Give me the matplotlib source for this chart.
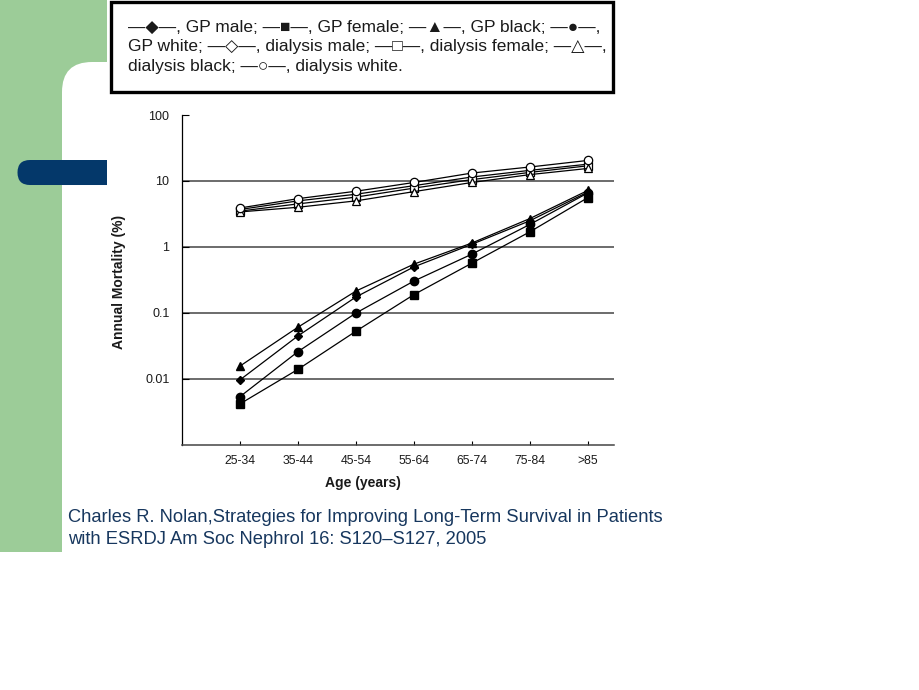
import matplotlib
matplotlib.use('Agg')
import matplotlib.pyplot as plt
from matplotlib.patches import Rectangle, FancyBboxPatch

# age groups and annual mortality (%)
ages = ['25-34', '35-44', '45-54', '55-64', '65-74', '75-84', '>85']
gp_male = [0.0097, 0.045, 0.175, 0.50, 1.1, 2.5, 6.8]
gp_female = [0.0042, 0.014, 0.053, 0.19, 0.57, 1.7, 5.6]
gp_black = [0.0157, 0.061, 0.215, 0.55, 1.15, 2.7, 7.2]
gp_white = [0.0054, 0.026, 0.10, 0.305, 0.78, 2.2, 6.6]
dial_male = [3.7, 5.0, 6.3, 8.5, 11.5, 14.5, 18.0]
dial_female = [3.5, 4.5, 5.7, 7.8, 10.5, 13.5, 17.0]
dial_black = [3.4, 4.0, 5.0, 6.9, 9.5, 12.5, 15.5]
dial_white = [3.9, 5.4, 7.0, 9.5, 13.2, 16.3, 20.5]

y_ticks = [0.01, 0.1, 1, 10, 100]
y_tick_labels = ['0.01', '0.1', '1', '10', '100']

legend_lines = [
    '\u2014\u25c6\u2014, GP male; \u2014\u25a0\u2014, GP female; \u2014\u25b2\u2014, GP black; \u2014\u25cf\u2014,',
    'GP white; \u2014\u25c7\u2014, dialysis male; \u2014\u25a1\u2014, dialysis female; \u2014\u25b3\u2014,',
    'dialysis black; \u2014\u25cb\u2014, dialysis white.',
]
citation = ['Charles R. Nolan,Strategies for Improving Long-Term Survival in Patients',
            'with ESRDJ Am Soc Nephrol 16: S120\u2013S127, 2005']

W, H = 920, 690
fonts = ['Liberation Sans', 'DejaVu Sans']

fig = plt.figure(figsize=(W / 100, H / 100), dpi=100)
fig.patch.set_facecolor('white')

# slide background in pixel coordinates
bg = fig.add_axes([0, 0, 1, 1])
bg.set_xlim(0, W)
bg.set_ylim(H, 0)
bg.axis('off')
bg.add_patch(Rectangle((0, 0), 107, 552, facecolor='#9ccc98', edgecolor='none'))
bg.add_patch(FancyBboxPatch((62 + 30, 62 + 30), 1000, 1000,
                            boxstyle='round,pad=30,rounding_size=30',
                            facecolor='white', edgecolor='none'))
bg.add_patch(FancyBboxPatch((30, 160 + 12.5), 120, 0.01,
                            boxstyle='round,pad=12.5,rounding_size=12.5',
                            facecolor='#04386a', edgecolor='none'))
# scanned figure area
bg.add_patch(Rectangle((107, 0), 510, 500, facecolor='white', edgecolor='none'))
bg.add_patch(Rectangle((111, 2), 502, 90, facecolor='none', edgecolor='black', lw=2.4))
for i, line in enumerate(legend_lines):
    bg.text(128, 27 + i * 20, line, fontsize=12.5, family=fonts, color='#1a1a1a',
            ha='left', va='center')
for i, line in enumerate(citation):
    bg.text(68, 517 + i * 23, line, fontsize=13.2, family=fonts, color='#17375e',
            ha='left', va='center')

# main chart
ax = fig.add_axes([182 / W, 1 - 445 / H, (614 - 182) / W, (445 - 115) / H])
ax.set_facecolor('none')
x = list(range(len(ages)))

gp = [(gp_male, 'D', 4.5), (gp_female, 's', 5.5), (gp_black, '^', 6), (gp_white, 'o', 6)]
dial = [(dial_male, 'D', 4.5), (dial_female, 's', 5.5), (dial_black, '^', 6), (dial_white, 'o', 6)]
for vals, m, ms in gp:
    ax.plot(x, vals, color='black', lw=0.9, marker=m, markersize=ms,
            markerfacecolor='black', markeredgecolor='black', zorder=3)
for vals, m, ms in dial:
    ax.plot(x, vals, color='black', lw=0.9, marker=m, markersize=ms,
            markerfacecolor='white', markeredgecolor='black', markeredgewidth=0.9, zorder=3)

ax.set_yscale('log')
ax.set_ylim(0.001, 100)
ax.set_xlim(-1, 6.45)
for v in [0.01, 0.1, 1, 10]:
    ax.axhline(v, color='#444444', lw=1.1, zorder=1)

ax.set_yticks(y_ticks)
ax.set_yticklabels(y_tick_labels)
ax.yaxis.set_minor_locator(matplotlib.ticker.NullLocator())
ax.set_xticks(x)
ax.set_xticklabels(ages)
ax.tick_params(axis='y', direction='in', length=5, width=0.8, pad=9, labelsize=9)
ax.tick_params(axis='x', direction='in', length=3, width=0.8, pad=7, labelsize=8.8)
for lab in ax.get_xticklabels() + ax.get_yticklabels():
    lab.set_family(fonts)
    lab.set_color('#1a1a1a')
for s in ['top', 'right']:
    ax.spines[s].set_visible(False)
ax.spines['left'].set_linewidth(0.9)
ax.spines['bottom'].set_linewidth(1.1)
ax.spines['bottom'].set_color('#444444')

bg.text(363, 483, 'Age (years)', fontsize=10, fontweight='bold', family=fonts,
        ha='center', va='center', color='#1a1a1a')
bg.text(119, 282, 'Annual Mortality (%)', fontsize=10, fontweight='bold', family=fonts,
        ha='center', va='center', rotation=90, color='#1a1a1a')

fig.savefig('out.png', dpi=100)
